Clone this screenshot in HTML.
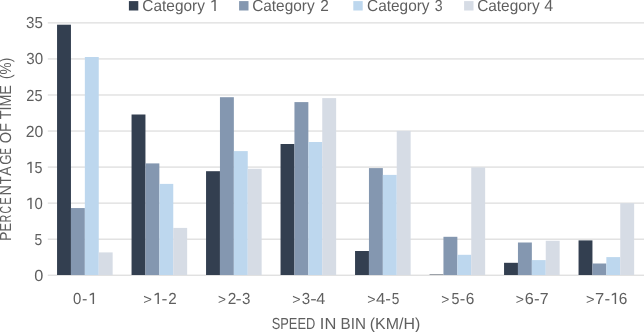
<!DOCTYPE html>
<html><head><meta charset="utf-8"><style>
html,body{margin:0;padding:0;background:#fff;width:644px;height:332px;overflow:hidden}
svg{display:block;text-rendering:geometricPrecision;will-change:transform}
.t{font-family:"Liberation Sans",sans-serif;font-size:16px;fill:#5F5F5F}
</style></head><body>
<svg width="644" height="332" viewBox="0 0 644 332">
<rect x="47.8" y="274.70" width="601.2" height="1" fill="#D4D4D4"/>
<rect x="47.8" y="238.66" width="601.2" height="1" fill="#D4D4D4"/>
<rect x="47.8" y="202.61" width="601.2" height="1" fill="#D4D4D4"/>
<rect x="47.8" y="166.57" width="601.2" height="1" fill="#D4D4D4"/>
<rect x="47.8" y="130.53" width="601.2" height="1" fill="#D4D4D4"/>
<rect x="47.8" y="94.49" width="601.2" height="1" fill="#D4D4D4"/>
<rect x="47.8" y="58.44" width="601.2" height="1" fill="#D4D4D4"/>
<rect x="47.8" y="22.40" width="601.2" height="1" fill="#D4D4D4"/>
<rect x="57.05" y="24.70" width="13.90" height="250.30" fill="#333F50"/>
<rect x="70.95" y="208.06" width="13.90" height="66.94" fill="#8497B0"/>
<rect x="84.85" y="57.00" width="13.90" height="218.00" fill="#BDD7EE"/>
<rect x="98.75" y="252.40" width="13.90" height="22.60" fill="#D6DCE5"/>
<rect x="131.55" y="114.50" width="13.90" height="160.50" fill="#333F50"/>
<rect x="145.45" y="163.40" width="13.90" height="111.60" fill="#8497B0"/>
<rect x="159.35" y="183.90" width="13.90" height="91.10" fill="#BDD7EE"/>
<rect x="173.25" y="227.90" width="13.90" height="47.10" fill="#D6DCE5"/>
<rect x="206.05" y="171.20" width="13.90" height="103.80" fill="#333F50"/>
<rect x="219.95" y="97.20" width="13.90" height="177.80" fill="#8497B0"/>
<rect x="233.85" y="151.10" width="13.90" height="123.90" fill="#BDD7EE"/>
<rect x="247.75" y="168.80" width="13.90" height="106.20" fill="#D6DCE5"/>
<rect x="280.55" y="144.00" width="13.90" height="131.00" fill="#333F50"/>
<rect x="294.45" y="102.10" width="13.90" height="172.90" fill="#8497B0"/>
<rect x="308.35" y="142.00" width="13.90" height="133.00" fill="#BDD7EE"/>
<rect x="322.25" y="98.10" width="13.90" height="176.90" fill="#D6DCE5"/>
<rect x="355.05" y="251.00" width="13.90" height="24.00" fill="#333F50"/>
<rect x="368.95" y="168.10" width="13.90" height="106.90" fill="#8497B0"/>
<rect x="382.85" y="174.90" width="13.90" height="100.10" fill="#BDD7EE"/>
<rect x="396.75" y="130.90" width="13.90" height="144.10" fill="#D6DCE5"/>
<rect x="429.55" y="274.55" width="13.90" height="0.45" fill="#333F50"/>
<rect x="443.45" y="236.80" width="13.90" height="38.20" fill="#8497B0"/>
<rect x="457.35" y="254.80" width="13.90" height="20.20" fill="#BDD7EE"/>
<rect x="471.25" y="167.40" width="13.90" height="107.60" fill="#D6DCE5"/>
<rect x="504.05" y="262.80" width="13.90" height="12.20" fill="#333F50"/>
<rect x="517.95" y="242.50" width="13.90" height="32.50" fill="#8497B0"/>
<rect x="531.85" y="260.10" width="13.90" height="14.90" fill="#BDD7EE"/>
<rect x="545.75" y="240.80" width="13.90" height="34.20" fill="#D6DCE5"/>
<rect x="578.55" y="240.40" width="13.90" height="34.60" fill="#333F50"/>
<rect x="592.45" y="263.50" width="13.90" height="11.50" fill="#8497B0"/>
<rect x="606.35" y="257.10" width="13.90" height="17.90" fill="#BDD7EE"/>
<rect x="620.25" y="203.20" width="13.90" height="71.80" fill="#D6DCE5"/>
<rect x="128.9" y="1.1" width="9.4" height="9.4" fill="#333F50"/>
<rect x="239.1" y="1.1" width="9.4" height="9.4" fill="#8497B0"/>
<rect x="353.3" y="1.1" width="9.4" height="9.4" fill="#BDD7EE"/>
<rect x="464.1" y="1.1" width="9.4" height="9.4" fill="#D6DCE5"/>
<text transform="translate(142.358,11.000) scale(0.9625,1.0000)" class="t">Category</text>
<text transform="translate(252.158,11.000) scale(0.9625,1.0000)" class="t">Category</text>
<text transform="translate(320.278,11.000) scale(0.9627,1.0000)" class="t">2</text>
<text transform="translate(367.058,11.000) scale(0.9625,1.0000)" class="t">Category</text>
<text transform="translate(434.851,11.000) scale(0.8787,1.0000)" class="t">3</text>
<text transform="translate(477.158,11.000) scale(0.9625,1.0000)" class="t">Category</text>
<text transform="translate(544.325,11.000)" class="t">4</text>
<text transform="translate(26.009,28.000) scale(0.9455,1.0000)" class="t">35</text>
<text transform="translate(26.309,64.000) scale(0.9455,1.0000)" class="t">30</text>
<text transform="translate(26.318,101.000) scale(0.9099,1.0000)" class="t">25</text>
<text transform="translate(25.763,137.000) scale(0.9832,1.0000)" class="t">20</text>
<text transform="translate(34.559,245.000) scale(0.8656,1.0000)" class="t">5</text>
<text transform="translate(34.265,281.000) scale(1.0164,1.0000)" class="t">0</text>
<text transform="translate(34.543,173.000) scale(0.8918,1.0000)" class="t">5</text>
<text transform="translate(34.518,209.000) scale(0.9311,1.0000)" class="t">0</text>
<text transform="translate(73.118,304.000) scale(0.9311,1.0000)" class="t">0</text>
<text transform="translate(81.945,304.000) scale(1.0065,1.0000)" class="t">-</text>
<text transform="translate(143.303,304.000) scale(0.9290,0.8750)" class="t">&gt;</text>
<text transform="translate(161.568,304.000) scale(1.1097,1.0000)" class="t">-</text>
<text transform="translate(168.188,304.000) scale(0.9492,1.0000)" class="t">2</text>
<text transform="translate(217.961,304.000) scale(0.8516,0.8750)" class="t">&gt;</text>
<text transform="translate(227.678,304.000) scale(0.9627,1.0000)" class="t">2</text>
<text transform="translate(235.548,304.000) scale(1.1355,1.0000)" class="t">-</text>
<text transform="translate(242.010,304.000) scale(0.9443,1.0000)" class="t">3</text>
<text transform="translate(292.332,304.000) scale(0.8903,0.8750)" class="t">&gt;</text>
<text transform="translate(301.810,304.000) scale(0.9443,1.0000)" class="t">3</text>
<text transform="translate(310.190,304.000) scale(1.2129,1.0000)" class="t">-</text>
<text transform="translate(316.320,304.000) scale(1.0125,1.0000)" class="t">4</text>
<text transform="translate(367.332,304.000) scale(0.8903,0.8750)" class="t">&gt;</text>
<text transform="translate(376.006,304.000) scale(1.0500,1.0000)" class="t">4</text>
<text transform="translate(385.206,304.000) scale(1.0581,1.0000)" class="t">-</text>
<text transform="translate(391.767,304.000) scale(0.8525,1.0000)" class="t">5</text>
<text transform="translate(441.252,304.000) scale(0.8645,0.8750)" class="t">&gt;</text>
<text transform="translate(451.443,304.000) scale(0.8918,1.0000)" class="t">5</text>
<text transform="translate(459.626,304.000) scale(1.0323,1.0000)" class="t">-</text>
<text transform="translate(465.758,304.000) scale(0.9627,1.0000)" class="t">6</text>
<text transform="translate(515.742,304.000) scale(0.8774,0.8750)" class="t">&gt;</text>
<text transform="translate(524.810,304.000) scale(1.0169,1.0000)" class="t">6</text>
<text transform="translate(533.906,304.000) scale(1.0581,1.0000)" class="t">-</text>
<text transform="translate(539.731,304.000) scale(0.9931,1.0000)" class="t">7</text>
<text transform="translate(586.013,304.000) scale(0.9161,0.8750)" class="t">&gt;</text>
<text transform="translate(595.095,304.000) scale(1.0345,1.0000)" class="t">7</text>
<text transform="translate(604.606,304.000) scale(1.0581,1.0000)" class="t">-</text>
<text transform="translate(618.658,304.000) scale(0.9627,1.0000)" class="t">6</text>
<text transform="translate(271.697,329.000) scale(0.8038,1.0000)" class="t">SPEED</text>
<text transform="translate(319.857,329.000) scale(1.0286,1.0000)" class="t">IN</text>
<text transform="translate(340.594,329.000) scale(0.9500,1.0000)" class="t">BIN</text>
<text transform="translate(369.805,329.000) scale(0.9954,1.0000)" class="t">(KM/H)</text>
<path d="M214.28,-0.20H215.72V11.00H214.28Z M214.28,-0.20L214.80,0.90L211.40,2.70L211.40,1.30Z" fill="#5F5F5F"/>
<path d="M30.23,161.80H31.67V173.00H30.23Z M30.23,161.80L30.75,162.90L27.35,164.70L27.35,163.30Z" fill="#5F5F5F"/>
<path d="M30.23,197.80H31.67V209.00H30.23Z M30.23,197.80L30.75,198.90L27.35,200.70L27.35,199.30Z" fill="#5F5F5F"/>
<path d="M92.63,292.80H94.07V304.00H92.63Z M92.63,292.80L93.15,293.90L89.75,295.70L89.75,294.30Z" fill="#5F5F5F"/>
<path d="M157.48,292.80H158.92V304.00H157.48Z M157.48,292.80L158.00,293.90L154.60,295.70L154.60,294.30Z" fill="#5F5F5F"/>
<path d="M614.68,292.80H616.12V304.00H614.68Z M614.68,292.80L615.20,293.90L611.80,295.70L611.80,294.30Z" fill="#5F5F5F"/>
<text transform="translate(11.200,240.913) rotate(-90) scale(0.8824,1)" class="t">P</text>
<text transform="translate(11.200,231.400) rotate(-90) scale(0.8000,1)" class="t">E</text>
<text transform="translate(11.200,222.295) rotate(-90) scale(0.6507,1)" class="t">R</text>
<text transform="translate(11.200,213.569) rotate(-90) scale(0.6500,1)" class="t">C</text>
<text transform="translate(11.200,204.757) rotate(-90) scale(0.6957,1)" class="t">E</text>
<text transform="translate(11.200,195.439) rotate(-90) scale(0.9014,1)" class="t">N</text>
<text transform="translate(11.200,184.200) rotate(-90) scale(0.8000,1)" class="t">T</text>
<text transform="translate(11.200,175.800) rotate(-90) scale(0.8753,1)" class="t">A</text>
<text transform="translate(11.200,164.721) rotate(-90) scale(0.8286,1)" class="t">G</text>
<text transform="translate(11.200,154.529) rotate(-90) scale(0.6029,1)" class="t">E</text>
<text transform="translate(11.200,143.283) rotate(-90) scale(0.9102,1)" class="t">OF</text>
<text transform="translate(11.200,119.336) rotate(-90) scale(0.8970,1)" class="t">TIME</text>
<text transform="translate(11.200,78.948) rotate(-90) scale(0.8481,1)" class="t">(%)</text>
</svg>
</body></html>
